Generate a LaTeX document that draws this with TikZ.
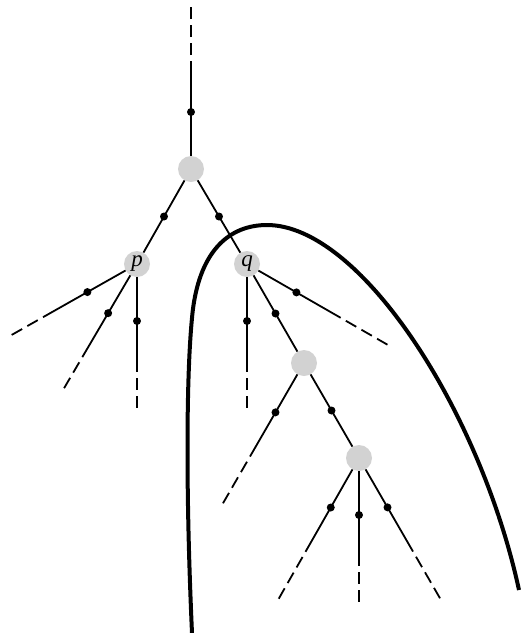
\documentclass[tikz,border=0pt]{standalone}
\usepackage{fontspec}
\setmainfont{Liberation Serif}
\usetikzlibrary{calc}

\tikzset{
  vertex/.style={circle, fill=gray!35, minimum size=26pt, inner sep=0pt,
    font=\fontsize{23}{23}\selectfont\itshape},
  edge/.style={line width=1.8pt},
  loose/.style={dash pattern=on 12pt off 6pt, dash phase=12pt},
  cut/.style={line width=4pt},
}

\begin{document}
\begin{tikzpicture}[x=1pt, y=-1pt]
  \useasboundingbox (0,0) rectangle (521,633);

  % branch vertices
  \node[vertex] (root) at (191,169) {};
  \node[vertex] (p) at (137,264) {p};
  \node[vertex] (q) at (247,264) {q};
  \node[vertex] (r) at (304,363) {};
  \node[vertex] (s) at (359,458) {};

  % loose ends
  \coordinate (top) at (191,5);
  \coordinate (pa) at (8,337);
  \coordinate (pb) at (63,390);
  \coordinate (pc) at (137,410);
  \coordinate (qa) at (247,410);
  \coordinate (qb) at (388,345);
  \coordinate (ra) at (222,505);
  \coordinate (sa) at (278,600);
  \coordinate (sb) at (359,607);
  \coordinate (sc) at (441,600);

  % inner edges
  \foreach \a/\b in {root/p, root/q, q/r, r/s} {
    \draw[edge] (\a) -- (\b);
    \fill ($(\a)!.5!(\b)$) circle (4pt);
  }

  % edges that run off
  \foreach \a/\b in {root/top, p/pa, p/pb, p/pc, q/qa, q/qb, r/ra, s/sa, s/sb, s/sc} {
    \draw[edge] (\a) -- ($(\a)!108pt!(\b)$);
    \draw[edge, loose] ($(\a)!108pt!(\b)$) -- (\b);
    \fill ($(\a)!57pt!(\b)$) circle (4pt);
  }

  % the cut
  \coordinate (cutlow) at (192,633);
  \coordinate (cutbend) at (192,318);
  \coordinate (cuttop) at (267,225);
  \coordinate (cutend) at (519,590);
  \draw[cut] (cutlow) .. controls (186,500) and (186,380) .. (cutbend)
    .. controls (198,250) and (230,225) .. (cuttop)
    .. controls (360,225) and (480,410) .. (cutend);
\end{tikzpicture}
\end{document}
